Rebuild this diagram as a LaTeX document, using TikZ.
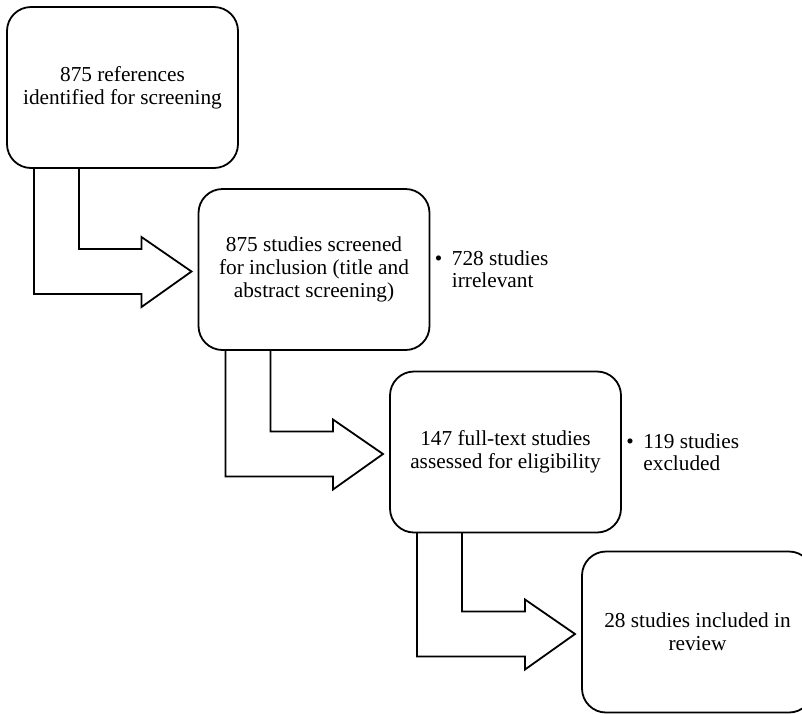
\documentclass[tikz,border=0pt]{standalone}
\usepackage{fontspec}
\setmainfont{Liberation Serif}
\usetikzlibrary{calc,positioning}
% hollow bent arrow from the bottom of one stage to the side of the next
\newcommand{\bentarrow}[2]{%
  \draw[fatarrow] ($(#1.south west)+(72,0)$) |- ($(#2.north west)+(-57,60)$)
    -- ++(0,-12) -- ($(#2.north west)+(-7,82.5)$)
    -- ($(#2.north west)+(-57,118)$) -- ++(0,-13)
    -| ($(#1.south west)+(27,0)$);}

\begin{document}
\begin{tikzpicture}[x=0.5pt, y=-0.5pt,
  stage/.style={draw, rounded corners=12pt, line width=0.9pt,
    minimum width=115.5pt, minimum height=80.5pt, inner sep=0pt,
    outer sep=0pt, align=center,
    font=\fontsize{10.65}{11.5}\selectfont},
  note/.style={inner sep=0pt, align=left,
    font=\fontsize{10.65}{11}\selectfont},
  fatarrow/.style={line width=0.9pt, line join=miter},
]
  \useasboundingbox (0,0) rectangle (802,713);
  \clip (0,0) rectangle (802,713);

  % Stage boxes
  \node[stage] (ident) at (122.5,87.5)
    {875 references\\identified for screening};
  \node[stage] (screen) at (314,269.5)
    {875 studies screened\\for inclusion (title and\\abstract screening)};
  \node[stage] (full) at (505.5,452)
    {147 full-text studies\\assessed for eligibility};
  \node[stage] (incl) at (697.5,632)
    {28 studies included in\\review};

  % Exclusion notes
  \node[note, right=2.5pt of screen] (irrel)
    {\makebox[8.5pt][l]{\textbullet}728 studies\\\hspace*{8.5pt}irrelevant};
  \node[note, right=2.5pt of full] (excl)
    {\makebox[8.5pt][l]{\textbullet}119 studies\\\hspace*{8.5pt}excluded};

  % Bent arrows
  \bentarrow{ident}{screen}
  \bentarrow{screen}{full}
  \bentarrow{full}{incl}
\end{tikzpicture}
\end{document}
